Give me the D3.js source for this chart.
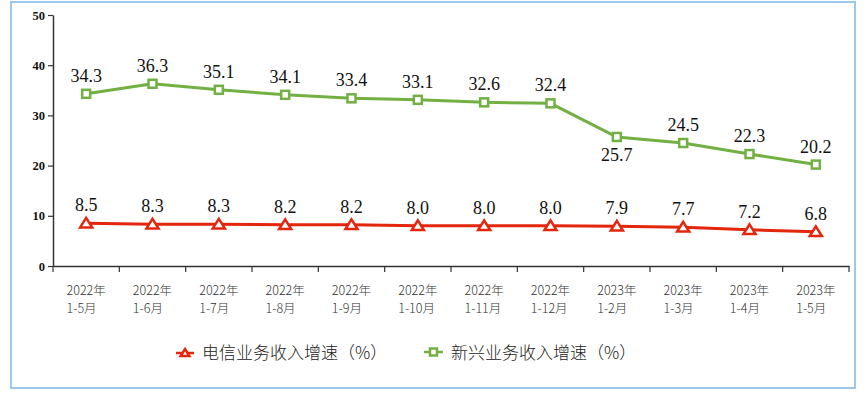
<!DOCTYPE html>
<html><head><meta charset="utf-8">
<script src="https://cdn.jsdelivr.net/npm/d3@7"></script>
<style>body{margin:0;background:#fff}</style>
</head><body>
<svg id="c" width="864" height="393"></svg>
<script>
const categories = [["2022年","1-5月"],["2022年","1-6月"],["2022年","1-7月"],["2022年","1-8月"],["2022年","1-9月"],["2022年","1-10月"],["2022年","1-11月"],["2022年","1-12月"],["2023年","1-2月"],["2023年","1-3月"],["2023年","1-4月"],["2023年","1-5月"]];
const telecom = [8.5,8.3,8.3,8.2,8.2,8.0,8.0,8.0,7.9,7.7,7.2,6.8];
const emerging = [34.3,36.3,35.1,34.1,33.4,33.1,32.6,32.4,25.7,24.5,22.3,20.2];
const yTicks = [0,10,20,30,40,50];
const seriesNames = ["电信业务收入增速（%）","新兴业务收入增速（%）"];

const svg = d3.select("#c");
const red = "#e3260c", green = "#72b043";
svg.append("rect").attr("x",11).attr("y",2).attr("width",844).attr("height",386)
  .attr("fill","none").attr("stroke","#9cc8ee").attr("stroke-width",2);

const x = d3.scaleBand().domain(d3.range(categories.length)).range([53,849]);
const y = d3.scaleLinear().domain([0,50]).range([266,15]);

// y axis
const ya = svg.append("g").attr("transform","translate(53,0)")
  .call(d3.axisLeft(y).tickValues(yTicks).tickSize(5).tickSizeOuter(0));
ya.select(".domain").attr("stroke","#333").attr("stroke-width",1.5);
ya.selectAll(".tick line").attr("stroke","#333").attr("stroke-width",1.2);
ya.selectAll(".tick text").attr("font-family","'Liberation Serif',serif").attr("font-weight","bold")
  .attr("font-size",12.5).attr("fill","#111").attr("x",-8);

// x axis
const xa = svg.append("g").attr("transform","translate(0,266)")
  .call(d3.axisBottom(x).tickValues([]).tickSizeOuter(0));
xa.select(".domain").attr("stroke","#333").attr("stroke-width",1.5);
const bounds = d3.range(categories.length+1).map(i => 53 + i*x.step());
xa.selectAll(".bt").data(bounds).join("line").attr("x1",d=>d).attr("x2",d=>d)
  .attr("y1",0).attr("y2",6).attr("stroke","#333").attr("stroke-width",1.2);

const lab = svg.append("g");
categories.forEach((c,i)=>{
  const cx = x(i)+x.bandwidth()/2;
  const t1 = lab.append("text").text(c[0]).attr("y",295).attr("font-family","'Noto Sans CJK SC',sans-serif")
    .attr("font-size",12.5).attr("font-weight",300).attr("fill","#333");
  const w = t1.node().getComputedTextLength();
  t1.attr("x",cx-w/2);
  lab.append("text").text(c[1]).attr("x",cx-w/2).attr("y",313).attr("font-family","'Noto Sans CJK SC',sans-serif")
    .attr("font-size",12.5).attr("font-weight",300).attr("fill","#333");
});

const cxf = i => x(i)+x.bandwidth()/2;
const line = d3.line().x((d,i)=>cxf(i)).y(d=>y(d));

function drawSeries(data,color,marker,labelOffsets){
  svg.append("path").datum(data).attr("d",line).attr("fill","none").attr("stroke",color).attr("stroke-width",3);
  const g = svg.append("g");
  data.forEach((d,i)=>{
    marker(g, cxf(i), y(d));
    g.append("text").text(d.toFixed(1)).attr("x",cxf(i)).attr("y",y(d)+labelOffsets(i))
      .attr("text-anchor","middle").attr("font-family","'Liberation Serif',serif").attr("font-size",18).attr("fill","#111");
  });
}
const tri = (g,cx,cy,s=5.5)=>g.append("path").attr("d",`M${cx},${cy-s}L${cx+s*1.1},${cy+s*0.75}L${cx-s*1.1},${cy+s*0.75}Z`)
  .attr("fill","#fff").attr("stroke",red).attr("stroke-width",2.5);
const sq = (g,cx,cy,s=4)=>g.append("rect").attr("x",cx-s).attr("y",cy-s).attr("width",2*s).attr("height",2*s)
  .attr("fill","#fff").attr("stroke",green).attr("stroke-width",2.5);

drawSeries(emerging,green,sq,i=> i===8 ? 24 : -12);
drawSeries(telecom,red,tri,i=>-12);

// legend
const lg = svg.append("g");
lg.append("line").attr("x1",176).attr("x2",194).attr("y1",353).attr("y2",353).attr("stroke",red).attr("stroke-width",2.5);
tri(lg,185,353,4);
lg.append("text").text(seriesNames[0]).attr("x",202).attr("y",359).attr("font-family","'Noto Sans CJK SC',sans-serif")
  .attr("font-size",17).attr("font-weight",300).attr("fill","#222");
lg.append("line").attr("x1",424).attr("x2",443).attr("y1",352).attr("y2",352).attr("stroke",green).attr("stroke-width",2.5);
sq(lg,433.5,352,3.5);
lg.append("text").text(seriesNames[1]).attr("x",451).attr("y",359).attr("font-family","'Noto Sans CJK SC',sans-serif")
  .attr("font-size",17).attr("font-weight",300).attr("fill","#222");
</script>
</body></html>
